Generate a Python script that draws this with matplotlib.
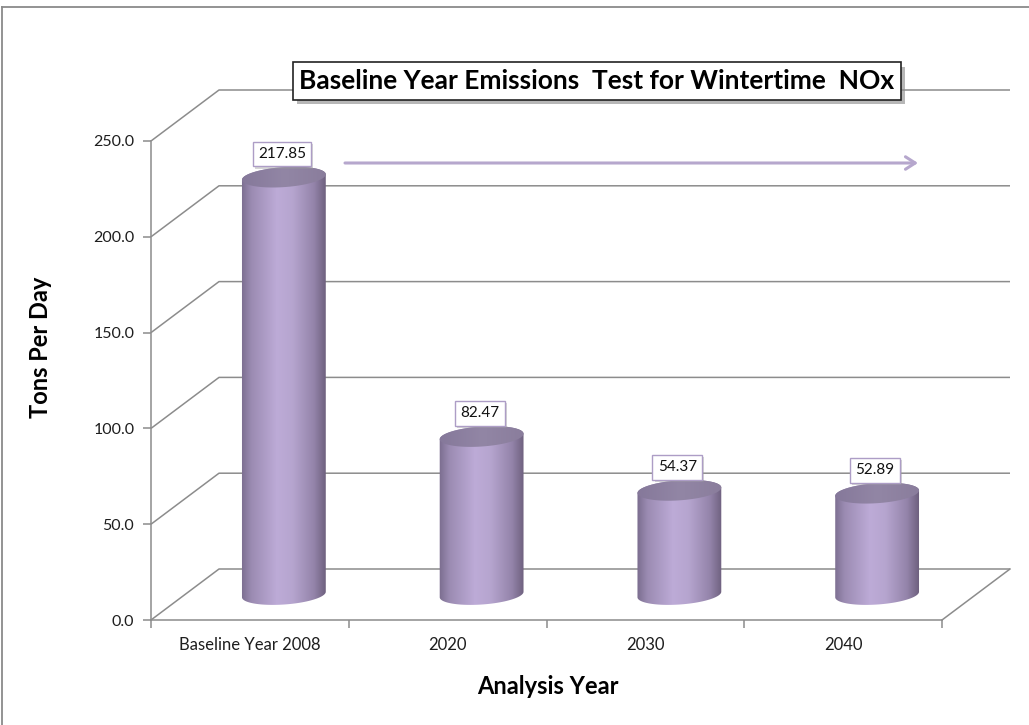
import matplotlib
matplotlib.use("Agg")
import matplotlib.pyplot as plt
import matplotlib.patheffects as pe
import numpy as np
from matplotlib.colors import LinearSegmentedColormap
from matplotlib.lines import Line2D
from matplotlib.patches import Polygon

# --- data -------------------------------------------------------------------
categories = ["Baseline Year 2008", "2020", "2030", "2040"]
values = [217.85, 82.47, 54.37, 52.89]
value_labels = ["217.85", "82.47", "54.37", "52.89"]
y_ticks = [0, 50, 100, 150, 200, 250]
y_tick_labels = ["0.0", "50.0", "100.0", "150.0", "200.0", "250.0"]

TITLE = "Baseline Year Emissions  Test for Wintertime  NOx"
GRID = "#8c8c8c"
FONT = "Lato"

plt.rcParams["font.family"] = [FONT, "DejaVu Sans"]

W, H = 1029, 725
fig = plt.figure(figsize=(W / 100, H / 100), dpi=100)
fig.patch.set_facecolor("white")

# front plane of the 3-D box, in pixels
ax_l, ax_r, ax_b, ax_t = 151, 942, 620, 141
ax = fig.add_axes([ax_l / W, 1 - ax_b / H, (ax_r - ax_l) / W, (ax_b - ax_t) / H])
ax.patch.set_alpha(0)
ymax = y_ticks[-1]
n = len(categories)
ax.set_xlim(-0.5, n - 0.5)
ax.set_ylim(0, ymax)

px_x = (ax_r - ax_l) / n        # pixels per category
px_y = (ax_b - ax_t) / ymax     # pixels per ton
DX, DY = 68 / px_x, 51 / px_y   # depth offset in data units

# back wall / side wall / floor lines
x0, x1 = -0.5, n - 0.5
for v in y_ticks:
    ax.plot([x0, x0 + DX, x1 + DX], [v, v + DY, v + DY], color=GRID, lw=1.1,
            clip_on=False, zorder=1, solid_capstyle="butt")
ax.plot([x1, x1 + DX], [0, DY], color=GRID, lw=1.1, clip_on=False, zorder=1)

for s in ("top", "right"):
    ax.spines[s].set_visible(False)
for s in ("left", "bottom"):
    ax.spines[s].set_color(GRID)
    ax.spines[s].set_linewidth(1.1)

ax.set_yticks(y_ticks)
ax.set_yticklabels(y_tick_labels)
ax.tick_params(axis="y", length=6, width=1.1, color=GRID, pad=6,
               labelsize=11.5, labelcolor="#1e1e1e")
ax.set_xticks(np.arange(n + 1) - 0.5)
ax.set_xticklabels([])
ax.tick_params(axis="x", which="major", length=6, width=1.1, color=GRID)
ax.set_xticks(np.arange(n), minor=True)
ax.set_xticklabels(categories, minor=True)
ax.tick_params(axis="x", which="minor", length=0, pad=12, labelsize=12,
               labelcolor="#1e1e1e")

ax.set_ylabel("Tons Per Day", fontsize=17, fontweight="bold")
ax.yaxis.set_label_coords(-(ax_l - 40) / (ax_r - ax_l), (ax_b - 347) / (ax_b - ax_t))
ax.set_xlabel("Analysis Year", fontsize=17, fontweight="bold")
ax.xaxis.set_label_coords((548 - ax_l) / (ax_r - ax_l), -(686 - ax_b) / (ax_b - ax_t))
ax.xaxis.label.set_va("center")
ax.yaxis.label.set_va("center")

# --- cylinders --------------------------------------------------------------
body_cmap = LinearSegmentedColormap.from_list("body", [
    (0.0, "#7a6c8e"), (0.12, "#9b8bb2"), (0.42, "#bdabd7"),
    (0.6, "#b6a5cf"), (0.85, "#9484aa"), (1.0, "#6b5e7b")])
top_cmap = LinearSegmentedColormap.from_list("top", [
    (0.0, "#85789a"), (0.5, "#9286a5"), (1.0, "#8a7d9c")])

half_w, half_h, tilt = 42, 10, np.deg2rad(4)


def ellipse(xc, yc, t):
    ex = half_w * np.cos(t) * np.cos(tilt) - half_h * np.sin(t) * np.sin(tilt)
    ey = half_w * np.cos(t) * np.sin(tilt) + half_h * np.sin(t) * np.cos(tilt)
    return np.column_stack([xc + ex / px_x, yc + ey / px_y])


def shaded(poly, cmap, xa, xb, ya, yb, z):
    ax.add_patch(poly)
    grad = np.linspace(0, 1, 256).reshape(1, -1)
    im = ax.imshow(grad, extent=(xa, xb, ya, yb), cmap=cmap, aspect="auto",
                   interpolation="bilinear", zorder=z, clip_on=True)
    im.set_clip_path(poly)


for i, v in enumerate(values):
    xc = i + DX / 2
    yb = DY / 2
    yt = v + DY / 2
    lower = ellipse(xc, yb, np.linspace(np.pi, 2 * np.pi, 60))
    upper = ellipse(xc, yt, np.linspace(0, np.pi, 60))
    body = Polygon(np.vstack([lower, upper]), closed=True, fill=False, lw=0,
                   zorder=3)
    wd = half_w / px_x * 1.02
    shaded(body, body_cmap, xc - wd, xc + wd, yb - 2 * half_h / px_y,
           yt + 2 * half_h / px_y, 3)
    cap = Polygon(ellipse(xc, yt, np.linspace(0, 2 * np.pi, 120)), closed=True,
                  fill=False, lw=0, zorder=4)
    shaded(cap, top_cmap, xc - wd, xc + wd, yt - 2 * half_h / px_y,
           yt + 2 * half_h / px_y, 4)

    lab = ax.text(xc - 2 / px_x, yt + 23 / px_y, value_labels[i], ha="center",
                  va="center", fontsize=11, color="#111111", zorder=10,
                  bbox=dict(boxstyle="square,pad=0.35", fc="white", ec="#ad9dc6",
                            lw=1))
    lab.get_bbox_patch().set_path_effects([
        pe.SimplePatchShadow(offset=(1.5, -1.5), shadow_rgbFace="#999999", alpha=0.4),
        pe.Normal()])

ax.set_xlim(-0.5, n - 0.5)
ax.set_ylim(0, ymax)

# --- trend arrow ------------------------------------------------------------
ax.annotate("", xy=(918, H - 163), xytext=(345, H - 163),
            xycoords="figure pixels", textcoords="figure pixels",
            arrowprops=dict(arrowstyle="->,head_length=0.7,head_width=0.45",
                            color="#b6a7cd", lw=2.2, shrinkA=0, shrinkB=0))

# --- title box --------------------------------------------------------------
t = fig.text(597 / W, 1 - 81 / H, TITLE, ha="center", va="center",
             fontsize=19, fontweight="bold", color="black",
             bbox=dict(boxstyle="square,pad=0.25", fc="white", ec="#222222", lw=1.2))
t.get_bbox_patch().set_path_effects([
    pe.SimplePatchShadow(offset=(3, -3), shadow_rgbFace="#888888", alpha=0.6),
    pe.Normal()])

# outer chart frame (top and left edges visible)
fig.add_artist(Line2D([2 / W, 2 / W], [0, 1 - 7 / H], transform=fig.transFigure,
                      color="#8a8a8a", lw=1.3))
fig.add_artist(Line2D([2 / W, 1], [1 - 7 / H, 1 - 7 / H], transform=fig.transFigure,
                      color="#8a8a8a", lw=1.3))

fig.savefig("out.png", dpi=100)
